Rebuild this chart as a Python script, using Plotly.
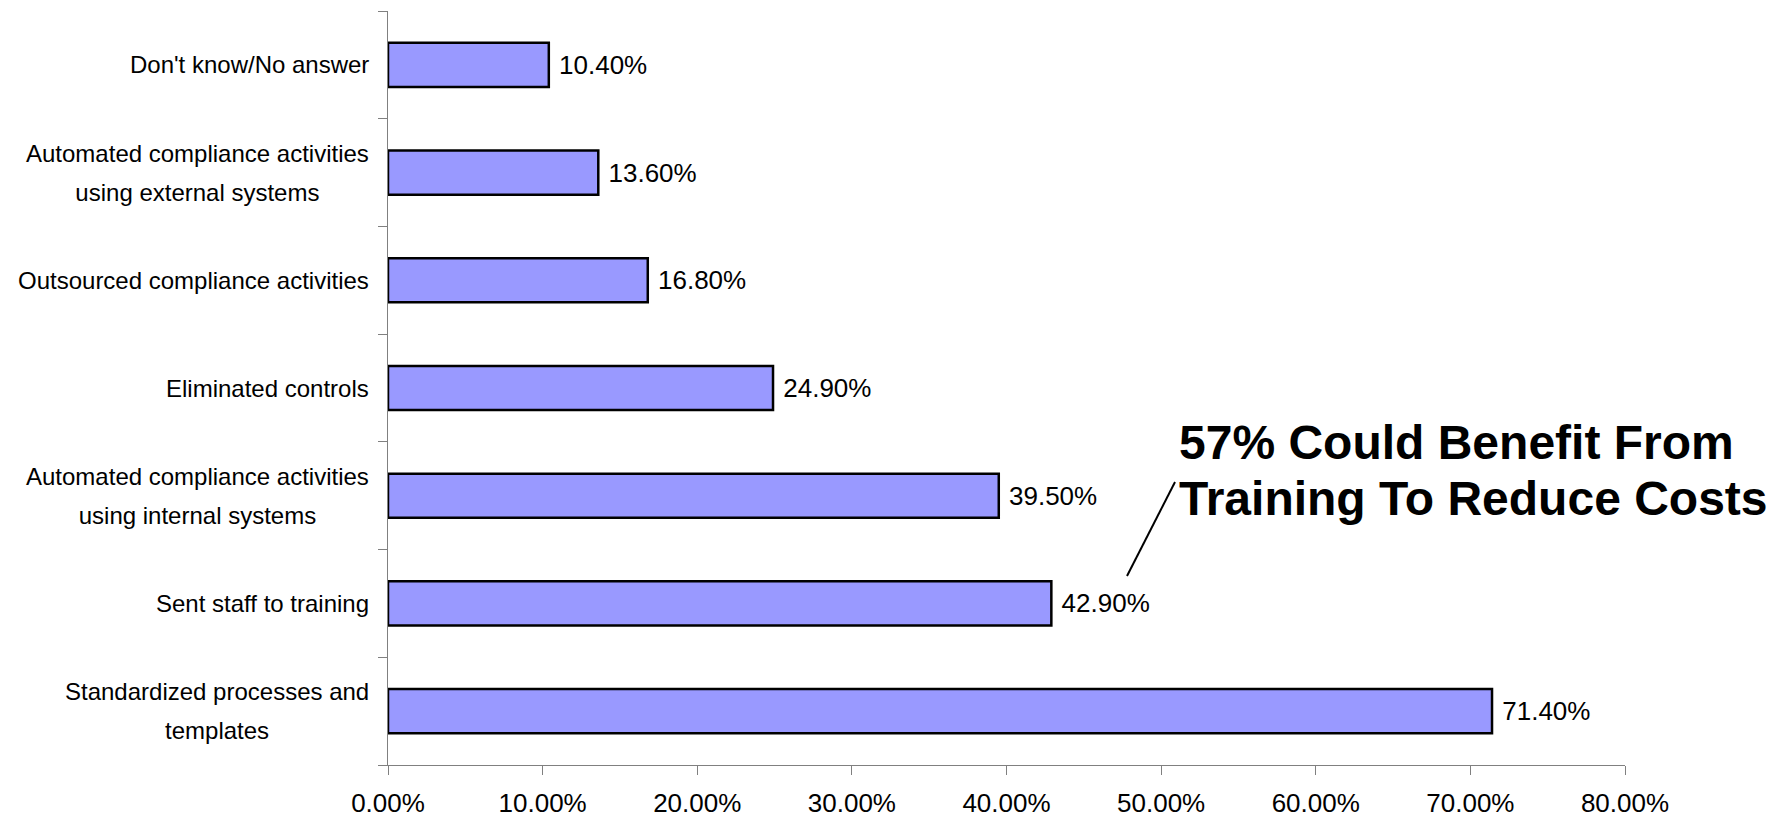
import plotly.graph_objects as go

categories = [
    "Standardized processes and<br>templates",
    "Sent staff to training",
    "Automated compliance activities<br>using internal systems",
    "Eliminated controls",
    "Outsourced compliance activities",
    "Automated compliance activities<br>using external systems",
    "Don't know/No answer",
]
values = [71.4, 42.9, 39.5, 24.9, 16.8, 13.6, 10.4]
x_ticks = [0, 10, 20, 30, 40, 50, 60, 70, 80]
x_tick_labels = ["0.00%", "10.00%", "20.00%", "30.00%", "40.00%", "50.00%", "60.00%", "70.00%", "80.00%"]
callout_lines = ["57% Could Benefit From", "Training To Reduce Costs"]

FONT = "Liberation Sans, Arial, sans-serif"
BOLD = "Liberation Sans, Arial, sans-serif"

# page body has an 8px margin; figure is sized so it fills the 1786x820 window
OFF = 8
W, H = 1786 - 2 * OFF, 820 - OFF
PLOT_TOP, PLOT_BOT = 11 - OFF, 765 - OFF


def px_(x_window):
    return (x_window - 388) / (1625 - 388)


def py(y_window):
    return (765 - y_window) / (765 - 11)


fig = go.Figure()
fig.add_trace(go.Bar(
    y=categories, x=values, orientation="h",
    marker=dict(color="#9999FF", line=dict(color="black", width=2.5)),
    width=0.41,
    text=["\u00a0%.2f%%" % v for v in values],
    textposition="outside", cliponaxis=False,
    textfont=dict(family=FONT, size=26, color="black"),
    hoverinfo="skip",
))

# category labels: right-aligned block, lines centred, 39px line pitch (1.3 x 30)
for c in categories:
    lines = c.split("<br>")
    txt = "<br>".join("<span style='font-size:24px'>%s</span>" % ln for ln in lines)
    fig.add_annotation(x=0, xref="paper", y=c, yref="y", text=txt, showarrow=False,
                       xanchor="right", yanchor="middle", align="center",
                       xshift=-17, yshift=0,
                       font=dict(family=FONT, size=30, color="black"))

fig.add_annotation(x=px_(1177), xref="paper", y=py(442), yref="paper", text="<b>%s</b>" % callout_lines[0],
                   showarrow=False, xanchor="left", yanchor="middle",
                   font=dict(family=BOLD, size=48, color="black"))
fig.add_annotation(x=px_(1177), xref="paper", y=py(498), yref="paper", text="<b>%s</b>" % callout_lines[1],
                   showarrow=False, xanchor="left", yanchor="middle",
                   font=dict(family=BOLD, size=48, color="black"))
fig.add_shape(type="line", xref="paper", yref="paper",
              x0=px_(1127), y0=py(576), x1=px_(1175), y1=py(482),
              line=dict(color="black", width=2))

fig.update_layout(
    width=W, height=H,
    margin=dict(l=388 - OFF, r=W - (1625 - OFF), t=PLOT_TOP, b=H - PLOT_BOT, autoexpand=False),
    paper_bgcolor="white", plot_bgcolor="white",
    showlegend=False, bargap=0.59,
    xaxis=dict(range=[0, 80], tickvals=x_ticks, ticktext=x_tick_labels, automargin=False,
               showgrid=False, zeroline=False, showline=True, linecolor="#808080", linewidth=1,
               ticks="outside", ticklen=9, tickcolor="#808080",
               ticklabelstandoff=6,
               tickfont=dict(family=FONT, size=26, color="black")),
    yaxis=dict(type="category", categoryorder="array", categoryarray=categories, automargin=False,
               showgrid=False, zeroline=False, showline=True, linecolor="#808080", linewidth=1,
               ticks="outside", ticklen=9, tickcolor="#808080", tickson="boundaries",
               showticklabels=False),
)

fig.write_html("out.html")
